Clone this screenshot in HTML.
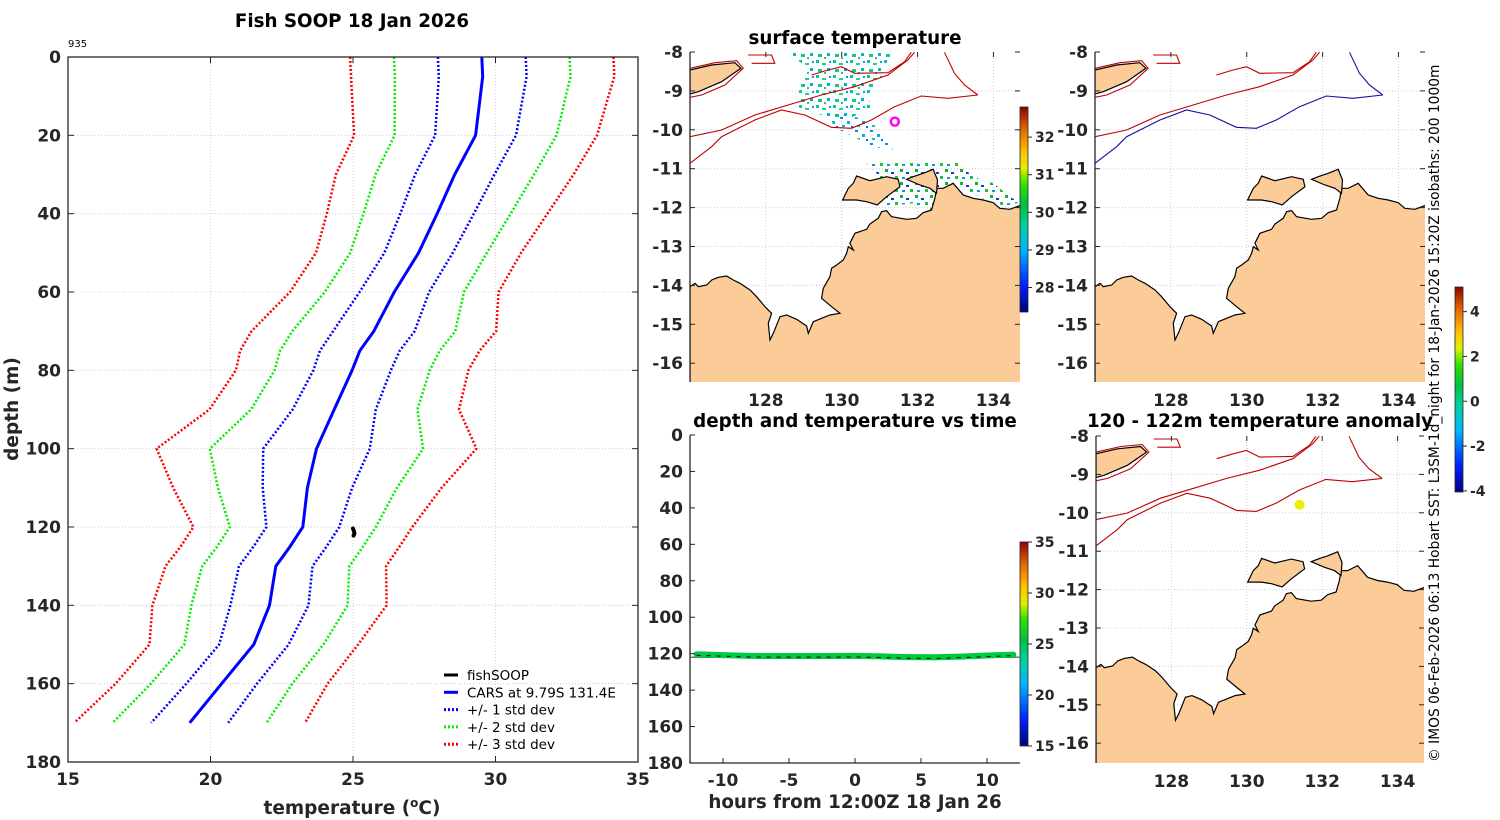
<!DOCTYPE html>
<html><head><meta charset="utf-8"><title>Fish SOOP 18 Jan 2026</title>
<style>
html,body{margin:0;padding:0;background:#fff;}
svg{display:block;font-family:"DejaVu Sans","Liberation Sans",sans-serif;}
.tk{font-size:17px;font-weight:bold;fill:#262626;}
.ttl{font-size:18.3px;font-weight:bold;fill:#000;}
</style></head>
<body>
<svg id="fig" width="1500" height="820" viewBox="0 0 1500 820" xmlns="http://www.w3.org/2000/svg">
<defs>
<linearGradient id="jet" x1="0" y1="1" x2="0" y2="0">
<stop offset="0" stop-color="#00007f"/><stop offset="0.13" stop-color="#0020ff"/>
<stop offset="0.3" stop-color="#00b4ff"/><stop offset="0.42" stop-color="#00d0a0"/>
<stop offset="0.52" stop-color="#00c040"/><stop offset="0.62" stop-color="#30e000"/>
<stop offset="0.7" stop-color="#e0f000"/><stop offset="0.78" stop-color="#ffc000"/>
<stop offset="0.9" stop-color="#e06000"/><stop offset="1" stop-color="#8f0000"/>
</linearGradient>
<pattern id="speckA" width="17" height="15" patternUnits="userSpaceOnUse">
<rect x="0" y="0" width="3" height="3" fill="#00c8a0"/><rect x="6" y="3" width="4" height="2" fill="#20d090"/>
<rect x="11" y="8" width="3" height="3" fill="#00b4d0"/><rect x="2" y="9" width="4" height="3" fill="#10c890"/>
<rect x="13" y="1" width="2" height="2" fill="#00a0e0"/><rect x="8" y="12" width="2" height="2" fill="#30c070"/>
</pattern>
<pattern id="speckB" width="15" height="13" patternUnits="userSpaceOnUse">
<rect x="0" y="0" width="3" height="2" fill="#0090f0"/><rect x="7" y="4" width="3" height="3" fill="#00b0e0"/>
<rect x="2" y="8" width="3" height="2" fill="#00c8c0"/><rect x="11" y="9" width="2" height="2" fill="#0070f0"/>
</pattern>
<pattern id="speckC" width="15" height="13" patternUnits="userSpaceOnUse">
<rect x="0" y="0" width="3" height="3" fill="#10b030"/><rect x="6" y="3" width="3" height="2" fill="#0040e0"/>
<rect x="10" y="7" width="3" height="3" fill="#20c040"/><rect x="2" y="8" width="3" height="2" fill="#00a0d0"/>
</pattern>
</defs>
</svg>
<script>
const NS="http://www.w3.org/2000/svg";
const svg=document.getElementById('fig');
function el(tag,attrs,parent){const e=document.createElementNS(NS,tag);for(const k in attrs)e.setAttribute(k,attrs[k]);(parent||svg).appendChild(e);return e;}
function txt(x,y,s,cls,anchor,parent){const t=el('text',{x:x,y:y,class:cls,'text-anchor':anchor||'middle'},parent);t.textContent=s;return t;}

/* ===== Profile chart data ===== */
const depths=[0,5,20,30,40,50,60,70,75,80,90,100,110,120,125,130,140,150,160,170];
const carsMean=[29.52,29.55,29.3,28.57,27.95,27.3,26.45,25.73,25.24,24.97,24.34,23.72,23.4,23.24,22.79,22.29,22.07,21.52,20.39,19.27];
const carsStd=[1.54,1.54,1.42,1.39,1.29,1.2,1.22,1.43,1.4,1.36,1.46,1.87,1.57,1.28,1.28,1.29,1.37,1.22,1.24,1.35];
const fishTemp=[25.0,25.03,25.05,25.02];
const fishDepth=[120.4,121.0,121.6,122.2];
const tempTicks=[15,20,25,30,35];
const depthTicks=[0,20,40,60,80,100,120,140,160,180];

/* ===== time series data ===== */
const hours=[-12,-10,-8,-6,-4,-2,0,2,4,6,8,10,12];
const seriesDepth=[120.3,120.8,121.2,121.3,121.3,121.3,121.2,121.5,121.9,122,121.6,121,120.5];
const seriesTemp=[24.8,24.9,24.9,25.0,25.0,25.0,25.0,25.0,25.1,25.1,25.0,24.9,24.9];
const hourTicks=[-10,-5,0,5,10];

/* ===== Profile panel ===== */
const P={x0:68,x1:638,y0:57,y1:762};
const px=t=>P.x0+(t-15)/20*(P.x1-P.x0);
const py=d=>P.y0+d/180*(P.y1-P.y0);
const gP=el('g',{});


tempTicks.slice(1,-1).forEach(t=>el('line',{x1:px(t),x2:px(t),y1:P.y0,y2:P.y1,stroke:'#e6c8c8','stroke-width':1,'stroke-dasharray':'1,2'},gP));
depthTicks.slice(1,-1).forEach(d=>el('line',{x1:P.x0,x2:P.x1,y1:py(d),y2:py(d),stroke:'#c8cce6','stroke-width':1,'stroke-dasharray':'1,2'},gP));
function prof(k,color,dash,w,name){
  const pts=depths.map((d,i)=>px(carsMean[i]+k*carsStd[i]).toFixed(1)+','+py(d).toFixed(1)).join(' ');
  const l=el('polyline',{points:pts,fill:'none',stroke:color,'stroke-width':w,'stroke-dasharray':dash},gP);
  
  
}
prof(-3,'#ff0000','2,2',2.5,'minus-3-std-line');prof(3,'#ff0000','2,2',2.5,'plus-3-std-line');
prof(-2,'#00ee00','2,2',2.5,'minus-2-std-line');prof(2,'#00ee00','2,2',2.5,'plus-2-std-line');
prof(-1,'#0000ff','2,2',2.5,'minus-1-std-line');prof(1,'#0000ff','2,2',2.5,'plus-1-std-line');
prof(0,'#0000ff','',3,'cars-mean-line');
const fl=el('polyline',{points:fishDepth.map((d,i)=>px(fishTemp[i])+','+py(d)).join(' '),fill:'none',stroke:'#000','stroke-width':4,'stroke-linecap':'round'},gP);


el('rect',{x:P.x0,y:P.y0,width:P.x1-P.x0,height:P.y1-P.y0,fill:'none',stroke:'#262626','stroke-width':1.3},gP);
tempTicks.forEach(t=>{el('line',{x1:px(t),x2:px(t),y1:P.y0,y2:P.y0+6,stroke:'#262626'},gP);el('line',{x1:px(t),x2:px(t),y1:P.y1,y2:P.y1-6,stroke:'#262626'},gP);txt(px(t),785,t,'tk','middle',gP);});
depthTicks.forEach(d=>{el('line',{x1:P.x0,x2:P.x0+6,y1:py(d),y2:py(d),stroke:'#262626'},gP);el('line',{x1:P.x1,x2:P.x1-6,y1:py(d),y2:py(d),stroke:'#262626'},gP);txt(61,py(d)+6,d,'tk','end',gP);});
const xt=el('text',{x:352,y:814,'font-weight':'bold',fill:'#262626','text-anchor':'middle','font-size':'18.5'},gP);

xt.innerHTML='temperature (<tspan dy="-7" font-size="12">o</tspan><tspan dy="7">C)</tspan>';
const yt=el('text',{x:0,y:0,'font-weight':'bold',fill:'#262626','text-anchor':'middle','font-size':'18.5',transform:'translate(18,409) rotate(-90)'},gP);
yt.textContent='depth (m)';

const t1=txt(352,27,'Fish SOOP 18 Jan 2026','ttl','middle',gP);

const n935=el('text',{x:68,y:47,'font-size':'10',fill:'#000'},gP);n935.textContent='935';

/* legend */
const leg=[['fishSOOP','#000',''],['CARS at 9.79S 131.4E','#0000ff',''],['+/- 1 std dev','#0000ff','2,2'],['+/- 2 std dev','#00ee00','2,2'],['+/- 3 std dev','#ff0000','2,2']];
leg.forEach((r,i)=>{const y=675+i*17.3;
  const g=el('g',{},gP);
  el('line',{x1:444,x2:458,y1:y,y2:y,stroke:r[1],'stroke-width':3,'stroke-dasharray':r[2]},g);
  const t=el('text',{x:467,y:y+5,'font-size':'13.5',fill:'#000'},g);t.textContent=r[0];});

/* ===== Maps ===== */
function fromZ1(p){return [126+(p[0]/3-50)/37.95,-8-(p[1]/3-32)/38.9];}
function fromZ2(p){return [126+(p[0]/3-35)/38,-8-(p[1]/3-32)/38.9];}
const landZ1=[[150,800],[165,790],[175,800],[200,795],[215,780],[235,772],[260,768],[280,780],[300,790],[330,810],[350,830],[375,860],[395,880],[385,910],[390,960],[400,940],[420,890],[440,885],[470,898],[500,918],[505,940],[520,905],[545,895],[570,885],[600,880],[575,860],[545,835],[550,805],[570,770],[575,745],[590,735],[610,720],[620,700],[625,680],[640,690],[630,670],[645,640],[680,628],[690,612],[715,595],[725,575],[740,572],[755,590],[800,598],[830,595],[850,578],[875,570],[885,535],[890,505],[910,505],[940,490],[970,525],[1000,535],[1030,540],[1060,548],[1080,565],[1110,568],[1145,555],[1145,1095],[150,1095]];
const melZ1=[[608,540],[625,505],[640,490],[650,468],[690,482],[740,470],[775,478],[780,500],[740,530],[712,555],[680,545],[650,540]];
const cobZ1=[[800,478],[820,470],[850,460],[880,448],[893,480],[890,520],[870,505],[840,495]];
const timorZ2=[[105,150],[170,135],[240,128],[258,145],[200,185],[130,215],[105,222]];
const isoShallow=[[105,350],[200,330],[300,285],[400,255],[500,225],[600,200],[700,165],[760,120],[780,97]];
const isoDeep=[[105,430],[170,380],[200,350],[300,300],[380,270],[450,285],[530,322],[590,325],[650,300],[720,260],[800,228],[880,235],[970,225]];
const isoTop=[[470,165],[520,150],[560,140],[600,160],[700,158],[750,125],[770,97]];
const isoTimor=[[105,145],[180,128],[245,122],[265,145],[210,195],[140,225],[105,232]];
const isoNE=[[870,97],[900,160],[930,195],[970,225]];
const isoIsl=[[280,105],[350,105],[360,130],[290,130]];
const clA=[[440,97],[760,97],[720,180],[680,230],[700,260],[620,300],[560,290],[470,260],[480,200],[500,140]];
const clB=[[570,280],[700,300],[760,390],[700,380],[640,350],[580,320]];
const clC=[[680,430],[950,425],[1000,470],[1060,490],[1135,548],[1100,560],[1040,540],[960,500],[900,520],[880,580],[820,550],[730,560],[720,470]];

function drawMap(name,x0,y0,w,h,opts){
  const sx=w/8.7, sy=opts.sy;
  const P2=ll=>(x0+(ll[0]-126)*sx).toFixed(1)+','+(y0+(-8-ll[1])*sy).toFixed(1);
  const g=el('g',{});
  
  
  const cid='clip'+name;
  const cp=el('clipPath',{id:cid},g);el('rect',{x:x0,y:y0,width:w,height:h},cp);
  const inner=el('g',{'clip-path':'url(#'+cid+')'},g);
  for(let lon=128;lon<=134;lon+=2)el('line',{x1:x0+(lon-126)*sx,x2:x0+(lon-126)*sx,y1:y0,y2:y0+h,stroke:'#c8cce6','stroke-dasharray':'1,2'},inner);
  for(let lat=-9;lat>=-16;lat--)el('line',{x1:x0,x2:x0+w,y1:y0+(-8-lat)*sy,y2:y0+(-8-lat)*sy,stroke:'#c8cce6','stroke-dasharray':'1,2'},inner);
  if(opts.sst){[['speckA',clA],['speckB',clB],['speckC',clC]].forEach(c=>{
    const s=el('polygon',{points:c[1].map(fromZ1).map(P2).join(' '),fill:'url(#'+c[0]+')'},inner);
    });}
  [landZ1,melZ1,cobZ1].forEach(poly=>{const l=el('polygon',{points:poly.map(fromZ1).map(P2).join(' '),fill:'#fccc98',stroke:'#000','stroke-width':1.2},inner);
    });
  el('polygon',{points:timorZ2.map(fromZ2).map(P2).join(' '),fill:'#fccc98',stroke:'#000','stroke-width':1.2},inner);
  const c1=opts.deepColor;
  [[isoShallow,'#c00000'],[isoDeep,c1],[isoTop,'#c00000'],[isoTimor,'#c00000'],[isoNE,c1],[isoIsl,'#c00000']].forEach(r=>{
    const l=el('polyline',{points:r[0].map(fromZ2).map(P2).join(' '),fill:'none',stroke:r[1],'stroke-width':1.1},inner);
    });
  if(opts.marker==='ring'){const m=el('circle',{cx:x0+5.4*sx,cy:y0+1.79*sy,r:4,fill:'none',stroke:'#ff00ff','stroke-width':2.5},g);}
  if(opts.marker==='dot'){const m=el('circle',{cx:x0+5.4*sx,cy:y0+1.79*sy,r:5,fill:'#eeee00'},g);}
  el('line',{x1:x0,x2:x0,y1:y0,y2:y0+h,stroke:'#262626','stroke-width':1.3},g);
  for(let lat=-8;lat>=-16;lat--){const y=y0+(-8-lat)*sy;el('line',{x1:x0,x2:x0+5,y1:y,y2:y,stroke:'#262626'},g);el('line',{x1:x0+w,x2:x0+w-5,y1:y,y2:y,stroke:'#262626'},g);txt(x0-7,y+6,lat,'tk','end',g);}
  for(let lon=128;lon<=134;lon+=2){const x=x0+(lon-126)*sx;el('line',{x1:x,x2:x,y1:y0,y2:y0+5,stroke:'#262626'},g);txt(x,y0+h+24,lon,'tk','middle',g);}
  return g;
}
drawMap('sst-map',690,52,330,330,{sy:38.9,sst:true,deepColor:'#c00000',marker:'ring'});
drawMap('isobath-map',1095,52,330,330,{sy:38.9,deepColor:'#1010a0'});
drawMap('anomaly-map',1096,436,328,327,{sy:38.4,deepColor:'#c00000',marker:'dot'});
const tt1=txt(855,44,'surface temperature','ttl');
const tt3=txt(1260,427,'120 - 122m temperature anomaly','ttl');

/* colorbars */
function cbar(name,x,y0,y1,vmin,vmax,ticks){
  const g=el('g',{});
  el('rect',{x:x,y:y0,width:8,height:y1-y0,fill:'url(#jet)',stroke:'#262626','stroke-width':0.8},g);
  ticks.forEach(v=>{const y=y1-(v-vmin)/(vmax-vmin)*(y1-y0);el('line',{x1:x+8,x2:x+12,y1:y,y2:y,stroke:'#262626'},g);
    const t=el('text',{x:x+15,y:y+5,'font-size':'14','font-weight':'bold',fill:'#262626'},g);t.textContent=v;});
}
cbar('sst-colorbar',1020,107,312,27.35,32.8,[28,29,30,31,32]);
cbar('anomaly-colorbar',1455,287,492,-4.05,5.1,[-4,-2,0,2,4]);
cbar('time-colorbar',1020,542,746,15,35,[15,20,25,30,35]);

/* ===== Time series panel ===== */
const T={x0:690,x1:1020,y0:435,y1:763};
const tx=h=>T.x0+(h+12.5)/25*(T.x1-T.x0);
const ty=d=>T.y0+d/180*(T.y1-T.y0);
const gT=el('g',{});
el('line',{x1:T.x0,x2:T.x1,y1:ty(122),y2:ty(122),stroke:'#777','stroke-width':1.5},gT);
function jetColor(v){const f=Math.max(0,Math.min(1,(v-15)/20));const st=[[0,[0,0,127]],[0.3,[0,180,255]],[0.42,[0,208,160]],[0.52,[0,200,40]],[0.62,[48,224,0]],[0.7,[224,240,0]],[0.78,[255,192,0]],[1,[143,0,0]]];
  for(let i=1;i<st.length;i++){if(f<=st[i][0]){const a=st[i-1],b=st[i],u=(f-a[0])/(b[0]-a[0]);return 'rgb('+a[1].map((c,j)=>Math.round(c+u*(b[1][j]-c))).join(',')+')';}}return 'rgb(143,0,0)';}
for(let i=0;i<hours.length-1;i++){
  const s=el('line',{x1:tx(hours[i]),y1:ty(seriesDepth[i]),x2:tx(hours[i+1]),y2:ty(seriesDepth[i+1]),stroke:jetColor(seriesTemp[i]),'stroke-width':6,'stroke-linecap':'round'},gT);
  
  
}
const dl=el('polyline',{points:hours.map((h,i)=>tx(h)+','+ty(seriesDepth[i]+0.6)).join(' '),fill:'none',stroke:'#000','stroke-width':1,'stroke-dasharray':'4,6'},gT);

el('polyline',{points:T.x0+','+T.y0+' '+T.x0+','+T.y1+' '+T.x1+','+T.y1,fill:'none',stroke:'#262626','stroke-width':1.3},gT);
depthTicks.forEach(d=>{el('line',{x1:T.x0,x2:T.x0+5,y1:ty(d),y2:ty(d),stroke:'#262626'},gT);txt(T.x0-7,ty(d)+6,d,'tk','end',gT);});
hourTicks.forEach(h=>{el('line',{x1:tx(h),x2:tx(h),y1:T.y1,y2:T.y1-5,stroke:'#262626'},gT);txt(tx(h),786,h,'tk','middle',gT);});
const tt2=txt(855,427,'depth and temperature vs time','ttl','middle',gT);
const hx=el('text',{x:855,y:808,'font-weight':'bold',fill:'#262626','text-anchor':'middle','font-size':'18.3'},gT);
hx.textContent='hours from 12:00Z 18 Jan 26';


/* credit text */
const cr=el('text',{x:0,y:0,'font-size':'13.8',fill:'#000','text-anchor':'start',transform:'translate(1439,762) rotate(-90)'});
cr.textContent='\u00a9 IMOS 06-Feb-2026 06:13 Hobart SST: L3SM-1d_night for 18-Jan-2026 15:20Z isobaths: 200  1000m';

</script>
</body></html>
